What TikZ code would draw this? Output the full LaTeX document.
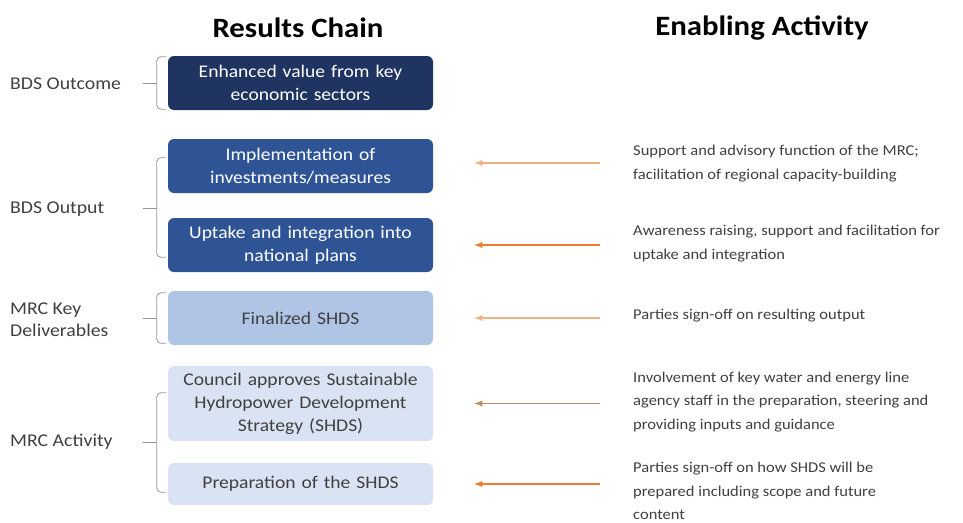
\documentclass[tikz,border=0pt]{standalone}
\usepackage{fontspec}
\setmainfont{Carlito}[FakeStretch=1.1]
\usepackage{tikz}
\usetikzlibrary{shapes,calc,positioning,arrows}
\definecolor{navy}{RGB}{31,52,96}
\definecolor{midblue}{RGB}{46,84,150}
\definecolor{paleblue}{RGB}{176,196,229}
\definecolor{iceblue}{RGB}{218,227,243}
\definecolor{txtgrey}{RGB}{64,64,64}
\definecolor{brkgrey}{RGB}{150,150,150}
\definecolor{org}{RGB}{237,125,49}
\definecolor{lightorg}{RGB}{240,178,130}
\definecolor{tanorg}{RGB}{190,140,100}

\begin{document}
\begin{tikzpicture}[x=1pt,y=-1pt]
\tikzstyle{rb}=[rounded corners=6pt,minimum width=265pt,minimum height=54pt,text width=258pt,align=center,font=\fontsize{17.8}{23}\selectfont,inner sep=0pt]
\tikzstyle{lab}=[anchor=west,inner sep=0pt,text=txtgrey,font=\fontsize{18}{22}\selectfont,align=left]
\tikzstyle{act}=[anchor=west,inner sep=0pt,text=txtgrey,font=\fontsize{15}{23.5}\selectfont,align=left]
\tikzstyle{brk}=[draw=brkgrey,line width=0.8pt,rounded corners=4pt]
\useasboundingbox (0,0) rectangle (963,522);

\node[font=\fontsize{28}{30}\selectfont\bfseries] (t1) at (298,28) {Results Chain};
\node[font=\fontsize{28}{30}\selectfont\bfseries] (t2) at (762,28) {Enabling Activity};

\node[rb,fill=navy,text=white] (b1) at (300.5,83) {Enhanced value from key\\economic sectors};
\node[rb,fill=midblue,text=white] (b2) at (300.5,166) {Implementation of\\investments/measures};
\node[rb,fill=midblue,text=white] (b3) at (300.5,245) {Uptake and integration into\\national plans};
\node[rb,fill=paleblue,text=txtgrey] (b4) at (300.5,318) {Finalized SHDS};
\node[rb,fill=iceblue,text=txtgrey,minimum height=75pt] (b5) at (300.5,403.5) {Council approves Sustainable\\Hydropower Development\\Strategy (SHDS)};
\node[rb,fill=iceblue,text=txtgrey,minimum height=42pt] (b6) at (300.5,484) {Preparation of the SHDS};

\node[lab] (l1) at (10,84) {BDS Outcome};
\node[lab] (l2) at (10,209) {BDS Output};
\node[lab] (l3) at (10,320) {MRC Key\\Deliverables};
\node[lab] (l4) at (10,442) {MRC Activity};

\node[act] (a1) at (633,163.5) {Support and advisory function of the MRC;\\facilitation of regional capacity-building};
\node[act] (a2) at (633,243.5) {Awareness raising, support and facilitation for\\uptake and integration};
\node[act] (a3) at (633,316) {Parties sign-off on resulting output};
\node[act] (a4) at (633,402) {Involvement of key water and energy line\\agency staff in the preparation, steering and\\providing inputs and guidance};
\node[act] (a5) at (633,491) {Parties sign-off on how SHDS will be\\prepared including scope and future\\content};

% brackets
\draw[brk] ([shift={(-2,1)}]b1.north west) -- ++(-9,0) |- ([shift={(-2,-1)}]b1.south west);
\draw[brk] ($(b1.west)+(-11,0)$) -- ++(-14,0);
\draw[brk] ([shift={(-2,19)}]b2.north west) -- ++(-9,0) |- ([shift={(-2,-15)}]b3.south west);
\draw[brk] ($(b2.north west)!0.5!(b3.south west)+(-11,3)$) -- ++(-14,0);
\draw[brk] ([shift={(-2,2)}]b4.north west) -- ++(-9,0) |- ([shift={(-2,-2)}]b4.south west);
\draw[brk] ($(b4.west)+(-11,0)$) -- ++(-14,0);
\draw[brk] ([shift={(-2,27)}]b5.north west) -- ++(-9,0) |- ([shift={(-2,-13)}]b6.south west);
\draw[brk] ($(b5.north west)!0.5!(b6.south west)+(-11,7)$) -- ++(-14,0);

% arrows
\draw[->,>=latex,lightorg,line width=1.8pt,shorten <=33pt,shorten >=41pt] (a1.west |- 0,163) -- (b2.east |- 0,163);
\draw[->,>=latex,org,line width=1.8pt,shorten <=33pt,shorten >=41pt] (a2.west |- b3.east) -- (b3.east);
\draw[->,>=latex,lightorg,line width=1.8pt,shorten <=33pt,shorten >=41pt] (a3.west |- b4.east) -- (b4.east);
\draw[->,>=latex,tanorg,line width=1.8pt,shorten <=33pt,shorten >=41pt] (a4.west |- b5.east) -- (b5.east);
\draw[->,>=latex,org,line width=1.8pt,shorten <=33pt,shorten >=41pt] (a5.west |- b6.east) -- (b6.east);
\end{tikzpicture}
\end{document}
